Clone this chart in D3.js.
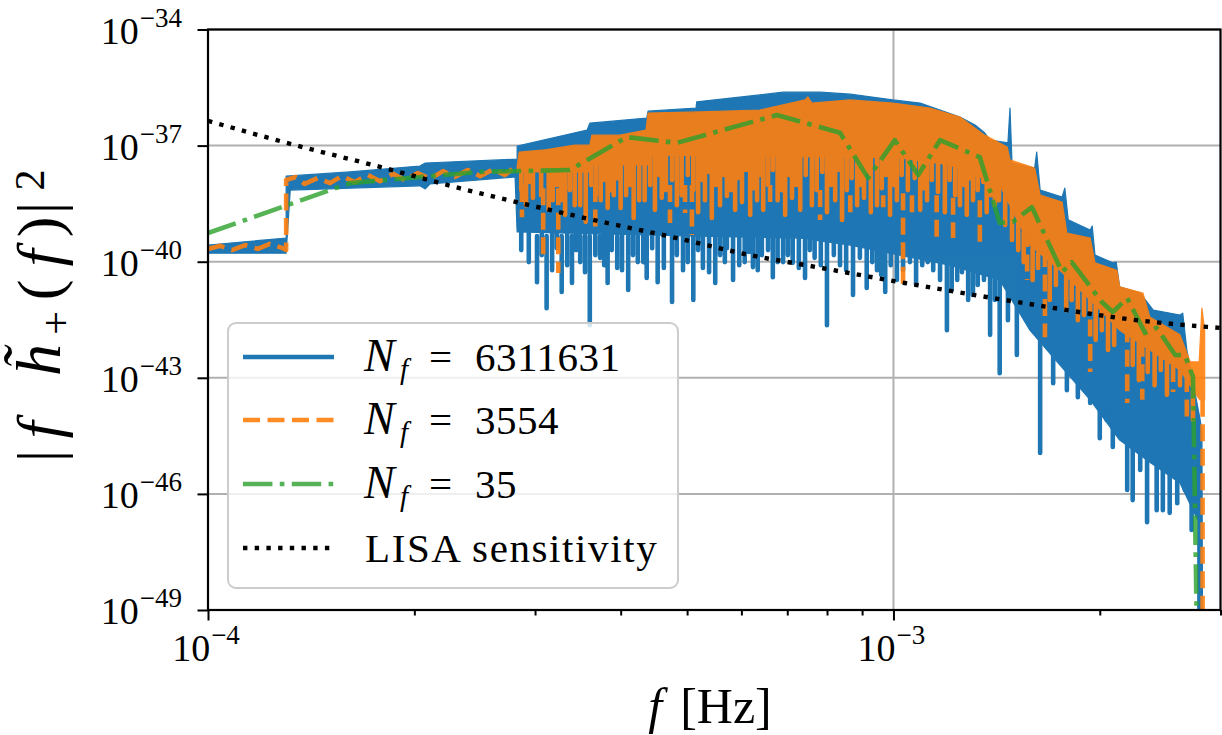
<!DOCTYPE html>
<html><head><meta charset="utf-8">
<script src="https://cdn.jsdelivr.net/npm/d3@7/dist/d3.min.js"></script>
<style>
html,body{margin:0;padding:0;background:#fff;}
svg{display:block;}
svg text{font-family:"Liberation Serif","DejaVu Serif",serif;fill:#000;}
</style></head><body>
<svg id="chart" width="1222" height="735" font-family="Liberation Serif, DejaVu Serif, serif"></svg>
<script>
// ---- data: [log10 f (Hz), log10 |f h+(f)|^2] ----
const yMajorExp = [-34, -37, -40, -43, -46, -49];
const xMajorExp = [-4, -3];
const xMinorVals = [2e-4, 3e-4, 4e-4, 5e-4, 6e-4, 7e-4, 8e-4, 9e-4, 2e-3, 3e-3];

const legendLabels = ["6311631", "3554", "35", "LISA sensitivity"];

// N_f = 6311631 : upper envelope of dense oscillation
const blueUpper = [
[-4.000,-39.57],[-3.886,-39.39],[-3.886,-37.79],[-3.793,-37.68],[-3.691,-37.53],[-3.683,-37.45],
[-3.549,-37.35],[-3.549,-37.01],[-3.447,-36.60],[-3.443,-36.42],[-3.360,-36.29],[-3.358,-36.11],
[-3.288,-36.03],[-3.287,-35.87],[-3.195,-35.69],[-3.161,-35.62],[-3.107,-35.62],[-3.063,-35.67],
[-3.034,-35.74],[-3.001,-35.82],[-2.961,-35.90],[-2.932,-36.08],[-2.903,-36.26],[-2.881,-36.47],
[-2.867,-36.67],[-2.859,-36.86],[-2.833,-36.93],[-2.830,-36.03],[-2.827,-37.45],[-2.794,-37.58],
[-2.791,-37.17],[-2.786,-38.15],[-2.754,-38.33],[-2.750,-38.10],[-2.745,-38.92],[-2.713,-39.18],
[-2.710,-39.08],[-2.706,-39.83],[-2.680,-40.03],[-2.675,-40.01],[-2.670,-40.65],[-2.640,-40.81],
[-2.621,-41.25],[-2.582,-41.38],[-2.578,-41.33],[-2.572,-42.28],[-2.553,-44.04],[-2.550,-44.35],[-2.549,-50]
];
// N_f = 6311631 : lower edge of the solid part
const blueFloor = [
[-4.000,-39.78],[-3.886,-39.78],[-3.880,-38.15],[-3.691,-38.04],[-3.683,-38.12],[-3.676,-37.99],
[-3.552,-37.81],[-3.549,-39.23],[-3.428,-39.28],[-3.282,-39.34],[-3.136,-39.39],[-3.063,-39.57],
[-2.991,-39.83],[-2.918,-40.09],[-2.845,-40.47],[-2.801,-41.77],[-2.757,-42.67],[-2.713,-43.57],
[-2.670,-44.61],[-2.626,-45.18],[-2.582,-45.72],[-2.556,-46.68],[-2.556,-50]
];
// N_f = 6311631 : deep minima [log f, from, to]
const blueSpikes = [
[-3.520,-39.34,-40.53],[-3.506,-39.34,-41.20],[-3.484,-39.34,-40.78],[-3.469,-39.34,-40.55],[-3.457,-39.34,-40.01],
[-3.443,-39.34,-41.64],[-3.428,-39.34,-39.90],[-3.417,-39.34,-40.55],[-3.403,-39.34,-40.16],[-3.387,-39.34,-40.73],
[-3.373,-39.34,-40.01],[-3.360,-39.34,-40.42],[-3.344,-39.34,-40.53],[-3.323,-39.34,-41.04],[-3.307,-39.34,-40.22],
[-3.292,-39.34,-40.99],[-3.278,-39.34,-40.16],[-3.260,-39.34,-40.55],[-3.246,-39.34,-40.01],[-3.234,-39.34,-40.47],
[-3.217,-39.34,-40.01],[-3.205,-39.34,-40.14],[-3.192,-39.34,-39.83],[-3.176,-39.34,-40.40],[-3.161,-39.34,-40.01],
[-3.147,-39.34,-40.03],[-3.129,-39.44,-40.42],[-3.115,-39.44,-39.90],[-3.097,-39.44,-41.64],[-3.078,-39.44,-40.09],
[-3.059,-39.57,-40.86],[-3.039,-39.57,-40.68],[-3.024,-39.57,-40.22],[-3.012,-39.57,-40.78],[-2.995,-39.70,-40.47],
[-2.976,-39.70,-40.01],[-2.958,-39.70,-40.09],[-2.942,-39.83,-40.22],[-2.922,-39.90,-41.77],[-2.907,-39.96,-40.47],
[-2.891,-40.01,-40.99],[-2.877,-40.09,-40.60],[-2.859,-40.22,-41.89],[-2.845,-40.34,-42.88],[-2.833,-40.60,-41.51],
[-2.820,-40.86,-42.41],[-2.786,-41.77,-44.94],[-2.767,-42.15,-43.14],[-2.747,-42.54,-43.32],[-2.731,-42.93,-43.50],
[-2.713,-43.32,-43.65],[-2.699,-43.57,-44.56],[-2.689,-43.70,-44.09],[-2.680,-43.83,-44.79],[-2.659,-44.35,-45.90],
[-2.651,-44.48,-46.16],[-2.640,-44.74,-45.38],[-2.630,-44.87,-46.73],[-2.616,-45.00,-46.42],[-2.607,-45.12,-46.42],
[-2.597,-45.25,-46.49],[-2.586,-45.38,-46.24],[-2.575,-45.51,-45.90],[-2.565,-45.64,-46.93]
];
// N_f = 6311631 : shallower minima
const blueMinorSpikes = [
[-3.543,-39.23,-39.70],[-3.532,-39.23,-40.01],[-3.513,-39.23,-39.83],[-3.498,-39.23,-40.22],[-3.491,-39.23,-39.65],
[-3.476,-39.23,-40.09],[-3.463,-39.23,-39.70],[-3.450,-39.23,-40.27],[-3.435,-39.23,-39.83],[-3.422,-39.23,-40.09],
[-3.411,-39.23,-39.70],[-3.396,-39.23,-40.22],[-3.380,-39.23,-39.83],[-3.365,-39.23,-40.01],[-3.352,-39.23,-39.65],
[-3.335,-39.23,-40.16],[-3.316,-39.23,-39.83],[-3.300,-39.23,-40.01],[-3.285,-39.23,-39.70],[-3.269,-39.23,-40.27],
[-3.253,-39.23,-39.83],[-3.243,-39.23,-39.65],[-3.225,-39.23,-40.09],[-3.211,-39.23,-39.75],[-3.198,-39.23,-40.22],
[-3.183,-39.23,-39.70],[-3.169,-39.23,-40.01],[-3.154,-39.23,-39.83],[-3.138,-39.23,-40.16],[-3.122,-39.44,-39.70],
[-3.106,-39.44,-40.09],[-3.087,-39.44,-39.83],[-3.069,-39.44,-40.22],[-3.049,-39.44,-39.90],[-3.031,-39.44,-40.01],
[-3.018,-39.44,-40.34],[-3.004,-39.44,-40.09],[-2.986,-39.83,-40.22],[-2.967,-39.83,-40.60],[-2.950,-39.83,-40.01],
[-2.932,-39.83,-40.47],[-2.915,-39.83,-40.73],[-2.900,-39.83,-40.27],[-2.884,-39.83,-40.86],[-2.868,-39.83,-40.47],
[-2.852,-39.83,-40.99]
];

// N_f = 3554 : low-frequency wiggle
const orangeLow = [
[-4.000,-39.67],[-3.982,-39.59],[-3.965,-39.70],[-3.946,-39.57],[-3.927,-39.67],[-3.910,-39.54],[-3.891,-39.65],
[-3.886,-39.70],[-3.886,-37.89],[-3.872,-37.81],[-3.859,-37.99],[-3.840,-37.84],[-3.822,-37.97],[-3.805,-37.79],
[-3.786,-37.94],[-3.767,-37.76],[-3.749,-37.92],[-3.730,-37.73],[-3.713,-37.89],[-3.694,-37.71],[-3.676,-37.86],
[-3.657,-37.66],[-3.640,-37.81],[-3.621,-37.63],[-3.603,-37.79],[-3.584,-37.61],[-3.567,-37.76],[-3.552,-37.55]
];
const orangeUpper = [
[-3.549,-37.55],[-3.546,-37.17],[-3.508,-37.11],[-3.465,-36.99],[-3.443,-36.99],[-3.440,-36.73],[-3.399,-36.73],
[-3.361,-36.60],[-3.358,-36.16],[-3.282,-36.13],[-3.195,-36.08],[-3.129,-35.82],[-3.125,-35.74],[-3.119,-35.90],
[-3.063,-35.82],[-3.001,-35.90],[-2.947,-36.03],[-2.903,-36.26],[-2.867,-36.73],[-2.834,-37.04],[-2.830,-37.37],
[-2.794,-37.58],[-2.786,-38.28],[-2.754,-38.46],[-2.747,-39.26],[-2.713,-39.39],[-2.706,-40.03],[-2.674,-40.22],
[-2.670,-40.65],[-2.636,-40.81],[-2.626,-41.43],[-2.582,-41.89],[-2.567,-42.59],[-2.554,-42.59],[-2.550,-41.20],
[-2.546,-41.77],[-2.546,-43.57]
];
const orangeFloor = [
[-3.549,-37.68],[-3.444,-37.68],[-3.441,-37.50],[-3.357,-37.50],[-3.354,-37.24],[-2.991,-37.32],[-2.918,-37.50],
[-2.845,-38.02],[-2.801,-39.57],[-2.757,-40.22],[-2.713,-40.99],[-2.670,-41.77],[-2.626,-42.28],[-2.582,-42.80],
[-2.553,-43.57]
];
// N_f = 3554 : long (dashed) minima
const orangeSpikes = [
[-3.542,-38.02,-38.85],[-3.511,-38.10,-39.83],[-3.489,-38.10,-40.29],[-3.435,-38.02,-39.18],[-3.326,-38.02,-39.00],
[-3.304,-38.02,-38.74],[-3.294,-38.02,-39.31],[-3.180,-38.02,-38.54],[-3.107,-38.15,-38.92],[-3.063,-38.28,-38.79],
[-3.015,-38.28,-38.59],[-2.986,-38.23,-40.60],[-2.973,-38.28,-38.85],[-2.937,-38.28,-39.49],[-2.913,-38.35,-39.39],
[-2.874,-38.41,-39.49],[-2.805,-39.18,-40.47],[-2.779,-39.70,-41.95],[-2.713,-40.86,-42.85],[-2.659,-41.64,-43.65],
[-2.637,-42.02,-43.57],[-2.592,-42.67,-43.37],[-2.572,-42.93,-44.17],[-2.549,-43.57,-50]
];
// N_f = 3554 : short minima
const orangeTeeth = [
[-3.536,-37.68,-38.54],[-3.526,-37.68,-38.35],[-3.503,-37.68,-38.66],[-3.497,-37.68,-38.41],[-3.479,-37.68,-38.79],
[-3.457,-37.68,-38.54],[-3.449,-37.68,-38.97],[-3.427,-37.50,-38.41],[-3.417,-37.50,-38.61],[-3.408,-37.50,-38.28],
[-3.398,-37.50,-38.61],[-3.379,-37.50,-38.87],[-3.363,-37.50,-38.41],[-3.348,-37.24,-38.66],[-3.338,-37.24,-38.35],
[-3.316,-37.24,-38.54],[-3.285,-37.24,-38.72],[-3.275,-37.24,-38.41],[-3.265,-37.24,-38.87],[-3.253,-37.24,-38.54],
[-3.243,-37.24,-38.30],[-3.231,-37.24,-38.66],[-3.221,-37.24,-38.46],[-3.209,-37.24,-38.79],[-3.199,-37.24,-38.41],
[-3.190,-37.24,-38.66],[-3.169,-37.24,-38.41],[-3.158,-37.24,-38.79],[-3.148,-37.24,-38.35],[-3.136,-37.24,-38.66],
[-3.119,-37.24,-38.54],[-3.097,-37.24,-38.72],[-3.085,-37.24,-38.41],[-3.075,-37.24,-38.92],[-3.053,-37.24,-38.54],
[-3.043,-37.24,-38.35],[-3.033,-37.24,-38.72],[-3.024,-37.24,-38.54],[-3.005,-37.24,-38.79],[-2.995,-37.24,-38.41],
[-2.961,-37.32,-38.66],[-2.951,-37.32,-38.41],[-2.925,-37.32,-38.72],[-2.903,-37.50,-38.54],[-2.893,-37.50,-38.79],
[-2.884,-37.50,-38.41],[-2.864,-37.50,-38.72],[-2.852,-37.50,-38.54],
[-3.543,-37.68,-38.15],[-3.530,-37.68,-37.94],[-3.514,-37.68,-38.28],[-3.491,-37.68,-38.02],[-3.485,-37.68,-38.41],
[-3.472,-37.68,-38.15],[-3.465,-37.68,-38.54],[-3.441,-37.50,-38.02],[-3.434,-37.50,-38.28],[-3.421,-37.50,-37.89],
[-3.412,-37.50,-38.15],[-3.403,-37.50,-37.84],[-3.390,-37.50,-38.28],[-3.384,-37.50,-38.02],[-3.371,-37.50,-38.41],
[-3.355,-37.24,-38.02],[-3.342,-37.24,-37.76],[-3.332,-37.24,-38.15],[-3.323,-37.24,-37.89],[-3.309,-37.24,-38.28],
[-3.300,-37.24,-37.76],[-3.292,-37.24,-38.15],[-3.279,-37.24,-37.89],[-3.269,-37.24,-37.68],[-3.259,-37.24,-38.02],
[-3.247,-37.24,-37.76],[-3.237,-37.24,-38.15],[-3.227,-37.24,-37.84],[-3.215,-37.24,-37.63],[-3.204,-37.24,-38.10],
[-3.195,-37.24,-37.76],[-3.183,-37.24,-38.02],[-3.176,-37.24,-37.63],[-3.163,-37.24,-38.15],[-3.152,-37.24,-37.76],
[-3.142,-37.24,-38.02],[-3.128,-37.24,-37.76],[-3.112,-37.24,-38.15],[-3.104,-37.24,-37.68],[-3.091,-37.24,-38.02],
[-3.081,-37.24,-37.63],[-3.068,-37.24,-38.15],[-3.061,-37.24,-37.84],[-3.047,-37.24,-38.02],[-3.037,-37.24,-37.68],
[-3.017,-37.24,-38.10],[-3.011,-37.24,-37.76],[-2.999,-37.24,-38.02],[-2.988,-37.32,-37.76],[-2.979,-37.32,-38.15],
[-2.969,-37.32,-37.84],[-2.956,-37.32,-38.10],[-2.944,-37.32,-37.89],[-2.935,-37.32,-38.20],[-2.918,-37.50,-37.89],
[-2.910,-37.50,-38.28],[-2.897,-37.50,-38.02],[-2.888,-37.50,-37.84],[-2.877,-37.50,-38.15],[-2.869,-37.50,-37.94],
[-2.858,-37.50,-38.28],[-2.846,-37.60,-38.41],
[-2.837,-38.28,-39.05],[-2.827,-38.54,-39.44],[-2.818,-38.92,-39.70],[-2.810,-39.23,-40.01],[-2.797,-39.65,-40.47],
[-2.789,-39.78,-40.16],[-2.772,-40.01,-40.99],[-2.763,-40.11,-40.60],[-2.748,-40.37,-41.25],[-2.740,-40.53,-40.99],
[-2.731,-40.68,-41.51],[-2.722,-40.83,-41.38],[-2.705,-41.14,-42.02],[-2.696,-41.30,-41.77],[-2.687,-41.45,-42.28],
[-2.678,-41.61,-42.15],[-2.651,-42.00,-42.67],[-2.642,-42.10,-43.06],[-2.629,-42.26,-42.85],[-2.619,-42.36,-43.19],
[-2.610,-42.46,-42.80],[-2.601,-42.57,-43.44],[-2.582,-42.80,-43.19],[-2.563,-43.32,-44.09]
];

// N_f = 35
const greenNf35 = [
[-4.000,-39.26],[-3.793,-37.97],[-3.691,-37.81],[-3.603,-37.68],[-3.472,-37.63],[-3.389,-36.78],[-3.316,-36.93],
[-3.170,-36.21],[-3.078,-36.67],[-3.037,-37.84],[-2.998,-36.86],[-2.964,-37.76],[-2.932,-36.86],[-2.874,-37.30],
[-2.845,-39.00],[-2.826,-38.97],[-2.798,-38.59],[-2.754,-40.27],[-2.740,-40.01],[-2.696,-41.04],[-2.680,-41.30],
[-2.659,-40.94],[-2.633,-41.84],[-2.616,-41.71],[-2.589,-42.41],[-2.575,-42.41],[-2.563,-42.98],[-2.557,-50]
];

// LISA sensitivity
const lisaCurve = [
[-4.000,-36.36],[-3.885,-36.93],[-3.749,-37.55],[-3.633,-38.10],[-3.526,-38.56],[-3.438,-38.92],[-3.316,-39.39],
[-3.209,-39.83],[-3.112,-40.14],[-2.990,-40.53],[-2.820,-41.04],[-2.636,-41.53],[-2.524,-41.71]
];

// ---- drawing ----
const BLUE = "#1f77b4", ORANGE = "#ff7f0e", GREEN = "#2ca02c";
const FONT = "Liberation Serif, DejaVu Serif, serif";
const svg = d3.select("#chart");
const L = 208, R = 1220.5, T = 29.5, B = 610;
const x = d3.scaleLog().domain([1e-4, 3e-3]).range([L, R]);
const y = d3.scaleLog().domain([1e-49, 1e-34]).range([B, T]);
const fx = d => x(Math.pow(10, d[0]));
const fy = v => y(Math.pow(10, v));

svg.append("defs").append("clipPath").attr("id", "clip")
  .append("rect").attr("x", L).attr("y", T).attr("width", R - L).attr("height", B - T);

// grid
const grid = svg.append("g").attr("stroke", "#b0b0b0").attr("stroke-width", 2);
yMajorExp.forEach(e => grid.append("line").attr("x1", L).attr("x2", R).attr("y1", fy(e)).attr("y2", fy(e)));
xMajorExp.forEach(e => grid.append("line").attr("y1", T).attr("y2", B).attr("x1", x(Math.pow(10, e))).attr("x2", x(Math.pow(10, e))));

const plot = svg.append("g").attr("clip-path", "url(#clip)");
const line = d3.line().x(d => fx(d)).y(d => fy(d[1]));
const band = (up, lo) => line(up.concat(lo.slice().reverse())) + "Z";
const spikes = arr => arr.map(d => `M${fx(d)},${fy(d[1])}V${fy(d[2])}`).join("");

// blue
plot.append("path").attr("d", band(blueUpper, blueFloor)).attr("fill", BLUE)
  .attr("stroke", BLUE).attr("stroke-width", 1.2).attr("stroke-linejoin", "round");
plot.append("path").attr("d", spikes(blueSpikes) + spikes(blueMinorSpikes)).attr("fill", "none").attr("stroke", BLUE)
  .attr("stroke-width", 4.6).attr("stroke-linecap", "round");

// orange
const og = plot.append("g").attr("opacity", 0.9);
og.append("path").attr("d", band(orangeUpper, orangeFloor)).attr("fill", ORANGE)
  .attr("stroke", ORANGE).attr("stroke-width", 1.2).attr("stroke-linejoin", "round");
og.append("path").attr("d", spikes(orangeTeeth)).attr("fill", "none").attr("stroke", ORANGE)
  .attr("stroke-width", 4.6).attr("stroke-linecap", "round");
og.append("path").attr("d", spikes(orangeSpikes)).attr("fill", "none").attr("stroke", ORANGE)
  .attr("stroke-width", 4.6).attr("stroke-dasharray", "17,7.5");
og.append("path").attr("d", line(orangeLow)).attr("fill", "none").attr("stroke", ORANGE)
  .attr("stroke-width", 4.6).attr("stroke-dasharray", "17,7.5").attr("stroke-linejoin", "round");

// green
plot.append("path").attr("d", line(greenNf35)).attr("fill", "none").attr("stroke", GREEN)
  .attr("opacity", 0.8).attr("stroke-width", 4.6).attr("stroke-dasharray", "29.4,7.4,4.6,7.4")
  .attr("stroke-linejoin", "round");

// LISA
plot.append("path").attr("d", d3.line().x(d => fx(d)).y(d => fy(d[1])).curve(d3.curveMonotoneX)(lisaCurve))
  .attr("fill", "none").attr("stroke", "#000").attr("stroke-width", 4.4).attr("stroke-dasharray", "4.4,7.3");

// axes (ticks)
const styleAxis = g => { g.select(".domain").remove(); g.selectAll("line").attr("stroke", "#000").attr("stroke-width", 2); g.selectAll("text").remove(); };
svg.append("g").attr("transform", `translate(0,${B})`)
  .call(d3.axisBottom(x).tickValues(xMinorVals).tickSize(5.5).tickSizeOuter(0).tickFormat(() => "")).call(styleAxis);
svg.append("g").attr("transform", `translate(0,${B})`)
  .call(d3.axisBottom(x).tickValues(xMajorExp.map(e => Math.pow(10, e))).tickSize(10.5).tickSizeOuter(0).tickFormat(() => "")).call(styleAxis);
svg.append("g").attr("transform", `translate(${L},0)`)
  .call(d3.axisLeft(y).tickValues(yMajorExp.map(e => Math.pow(10, e))).tickSize(10.5).tickSizeOuter(0).tickFormat(() => "")).call(styleAxis);

// frame
svg.append("rect").attr("x", L).attr("y", T).attr("width", R - L).attr("height", B - T)
  .attr("fill", "none").attr("stroke", "#000").attr("stroke-width", 2.2);

// tick labels
function powLabel(px, py, e, anchor) {
  const t = svg.append("text").attr("x", px).attr("y", py).attr("text-anchor", anchor)
    .attr("font-family", FONT).attr("font-size", 38);
  t.append("tspan").text("10");
  t.append("tspan").attr("font-size", 27).attr("dy", -17).attr("dx", 1).text("\u2212" + Math.abs(e));
}
yMajorExp.forEach(e => powLabel(182, fy(e) + 14, e, "end"));
xMajorExp.forEach(e => powLabel(x(Math.pow(10, e)) - 2, 661, e, "middle"));

// axis labels
const xl = svg.append("text").attr("x", 710).attr("y", 723).attr("text-anchor", "middle")
  .attr("font-family", FONT).attr("font-size", 50);
xl.append("tspan").attr("font-style", "italic").text("f");
xl.append("tspan").attr("dx", 18).text("[Hz]");

// y label, glyph by glyph along the rotated baseline
const ylg = svg.append("g").attr("transform", "translate(60,0) rotate(-90)");
const yGlyphs = [
  ["|", 456, false, 62, 0], ["f", 430, true, 62, 0], ["h\u0303", 360, true, 64, 0],
  ["+", 323, false, 42, 10], ["(", 290, false, 62, 0], ["f", 258, true, 62, 0],
  [")", 227, false, 62, 0], ["|", 208, false, 62, 0], ["2", 180, false, 42, -16]
];
yGlyphs.forEach(g => ylg.append("text").attr("x", -g[1]).attr("y", g[4]).attr("text-anchor", "middle")
  .attr("font-family", FONT).attr("font-size", g[3]).attr("font-style", g[2] ? "italic" : "normal").text(g[0]));

// legend
const lg = svg.append("g").attr("font-family", FONT);
lg.append("rect").attr("x", 228).attr("y", 323).attr("width", 450).attr("height", 265).attr("rx", 8)
  .attr("fill", "#fff").attr("fill-opacity", 0.8).attr("stroke", "#cccccc").attr("stroke-width", 2);
const rows = [357, 420, 484, 548];
const styles = [
  {c: BLUE, dash: null, op: 1, w: 4.6},
  {c: ORANGE, dash: "17,7.5", op: 0.9, w: 4.6},
  {c: GREEN, dash: "29.4,7.4,4.6,7.4", op: 0.8, w: 4.6},
  {c: "#000", dash: "4.4,7.3", op: 1, w: 4.4}
];
rows.forEach((ry, i) => {
  const s = styles[i];
  const ln = lg.append("line").attr("x1", 243).attr("x2", 334).attr("y1", ry).attr("y2", ry)
    .attr("stroke", s.c).attr("stroke-width", s.w).attr("opacity", s.op);
  if (s.dash) ln.attr("stroke-dasharray", s.dash);
  if (i < 3) {
    lg.append("text").attr("x", 364).attr("y", ry + 14).attr("font-size", 46).attr("font-style", "italic").text("N");
    lg.append("text").attr("x", 400).attr("y", ry + 22).attr("font-size", 29).attr("font-style", "italic").text("f");
    lg.append("text").attr("x", 429).attr("y", ry + 14).attr("font-size", 41).text("=");
    lg.append("text").attr("x", 475).attr("y", ry + 14).attr("font-size", 41).attr("letter-spacing", 0.5).text(legendLabels[i]);
  } else {
    lg.append("text").attr("x", 365).attr("y", ry + 14).attr("font-size", 41).attr("letter-spacing", 1.6).text(legendLabels[i]);
  }
});
</script>
</body></html>
